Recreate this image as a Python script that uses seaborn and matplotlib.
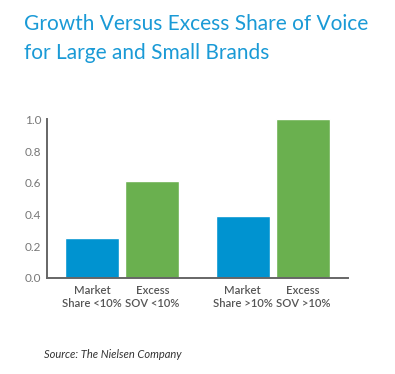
import pandas as pd
import seaborn as sns
import matplotlib.pyplot as plt

# data
groups = ['Small brands', 'Large brands']
measures = ['Market share', 'Excess SOV']
market_share = [0.25, 0.39]
excess_sov = [0.61, 1.0]
bar_labels = ['Market\nShare <10%', 'Excess\nSOV <10%', 'Market\nShare >10%', 'Excess\nSOV >10%']
y_ticks = [0.0, 0.2, 0.4, 0.6, 0.8, 1.0]

df = pd.DataFrame({
    'group': groups * 2,
    'measure': [measures[0]] * 2 + [measures[1]] * 2,
    'value': market_share + excess_sov,
})

blue = '#0093D0'
green = '#6AB04F'
title_color = '#1A9AD6'
axis_color = '#666666'
tick_color = '#777777'

sns.set_style('white')
plt.rcParams['font.family'] = ['Lato', 'DejaVu Sans']

fig = plt.figure(figsize=(3.95, 3.74), dpi=100)
ax = fig.add_axes([0.119, 0.2567, 0.762, 0.4238])

sns.barplot(data=df, x='group', y='value', hue='measure', order=groups,
            hue_order=measures, palette=[blue, green], saturation=1,
            width=0.8, gap=0.1, legend=False, ax=ax)

ax.set_xlim(-0.5, 1.5)
ax.set_ylim(0, 1.0)
ax.set_xlabel('')
ax.set_ylabel('')

# spines
for s in ['top', 'right']:
    ax.spines[s].set_visible(False)
for s in ['left', 'bottom']:
    ax.spines[s].set_color(axis_color)
    ax.spines[s].set_linewidth(1.4)

ax.set_yticks(y_ticks)
ax.set_yticklabels([f'{v:.1f}' for v in y_ticks])
ax.tick_params(axis='y', direction='in', length=6, width=1.2, color=axis_color,
               labelcolor=tick_color, labelsize=8.5, pad=4)

# bar labels as minor ticks at bar centres
centres = [-0.2, 0.2, 0.8, 1.2]
ax.set_xticks([0.5, 1.5])
ax.set_xticklabels([])
ax.set_xticks(centres, minor=True)
ax.set_xticklabels(bar_labels, minor=True)
ax.tick_params(axis='x', which='major', direction='in', length=4, width=1.2, color='#333333')
ax.tick_params(axis='x', which='minor', length=0, pad=5, labelsize=8.1, labelcolor='#555555')
for t in ax.get_xticklabels(minor=True):
    t.set_fontweight('semibold')
    t.set_linespacing(1.2)

fig.text(0.061, 0.962, 'Growth Versus Excess Share of Voice\nfor Large and Small Brands',
         color=title_color, fontsize=15, va='top', ha='left', linespacing=1.55)
fig.text(0.111, 0.038, 'Source: The Nielsen Company', color='#333333',
         fontsize=8, style='italic', ha='left', va='bottom')

plt.savefig('out.png', dpi=100)
